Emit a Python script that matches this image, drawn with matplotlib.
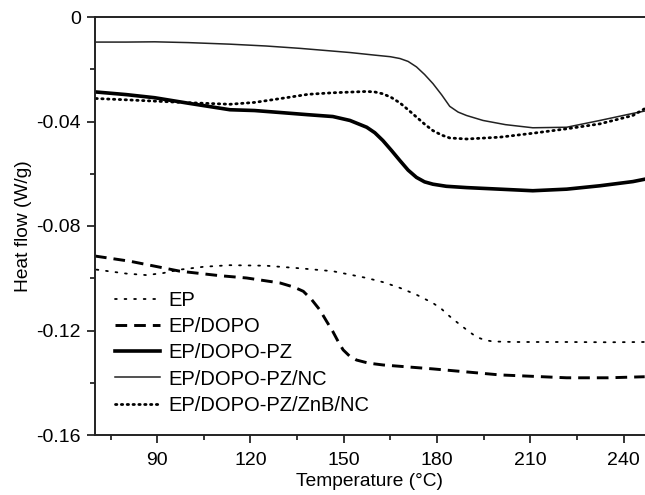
import matplotlib
matplotlib.use("Agg")
import matplotlib.pyplot as plt
from matplotlib.ticker import FixedLocator

# DSC curves (temperature in C, heat flow in W/g)
ep_t = [70.5, 80, 86.6, 92, 97.3, 105, 113.4, 125, 136, 146.5, 157.4, 163, 168.1, 173.4,
        178.7, 181.5, 184.1, 186.8, 189.5, 192.7, 195.5, 198, 205, 221.7, 235, 246.8]
ep_hf = [-0.0967, -0.0982, -0.0988, -0.0980, -0.0967, -0.0956, -0.0950, -0.0952, -0.0962,
         -0.0973, -0.0999, -0.1016, -0.1037, -0.1063, -0.1095, -0.1118, -0.1146, -0.1172,
         -0.1197, -0.1225, -0.1237, -0.1242, -0.1244, -0.1244, -0.1245, -0.1244]

dopo_t = [70, 81.3, 97.3, 110, 118.8, 129.5, 134, 137, 139.7, 142.3, 144.4, 146.5, 148.2,
          149.8, 151.8, 154.1, 158, 162.7, 178.7, 200.2, 221.7, 235, 246.8]
dopo_hf = [-0.0915, -0.0935, -0.0973, -0.0990, -0.0999, -0.1018, -0.1034, -0.1050, -0.1082,
           -0.1121, -0.1163, -0.1204, -0.1242, -0.1274, -0.1297, -0.1313, -0.1325, -0.1332,
           -0.1347, -0.1370, -0.1381, -0.1381, -0.1377]

pz_t = [70.3, 80, 89.2, 100, 113.4, 121.3, 130, 138.5, 146.5, 152, 157.4, 160, 162.6,
        165.3, 168.1, 170.7, 173.4, 176, 178.7, 183, 189.5, 200.2, 210.8, 221.7, 232.4,
        243, 246.8]
pz_hf = [-0.0287, -0.0297, -0.0309, -0.0330, -0.0355, -0.0358, -0.0366, -0.0374, -0.0381,
         -0.0396, -0.0422, -0.0443, -0.0473, -0.0510, -0.0550, -0.0586, -0.0614, -0.0631,
         -0.0640, -0.0648, -0.0653, -0.0659, -0.0665, -0.0659, -0.0646, -0.0630, -0.0621]

nc_t = [70.3, 80, 89.2, 100, 113.4, 125, 135.9, 145, 152, 160, 165, 168.1, 170.7, 173.4,
        176, 178.7, 181.5, 184.1, 186.8, 189.5, 194.8, 202, 210.8, 221.7, 232.4, 243, 246.8]
nc_hf = [-0.0096, -0.0096, -0.0095, -0.0098, -0.0104, -0.0111, -0.0120, -0.0129, -0.0136,
         -0.0146, -0.0152, -0.0159, -0.0170, -0.0191, -0.0220, -0.0255, -0.0298, -0.0342,
         -0.0364, -0.0377, -0.0396, -0.0412, -0.0424, -0.0422, -0.0396, -0.0369, -0.0360]

znb_t = [70.3, 80, 89.2, 100, 113.4, 121.3, 132, 138.5, 146.5, 157.4, 160, 162.6, 165.3,
         168.1, 170.7, 173.4, 176, 178.7, 181.5, 184.1, 189.5, 200.2, 210.8, 221.7, 232.4,
         243, 246.8]
znb_hf = [-0.0312, -0.0317, -0.0322, -0.0328, -0.0334, -0.0327, -0.0308, -0.0296, -0.0290,
          -0.0285, -0.0287, -0.0294, -0.0308, -0.0329, -0.0355, -0.0383, -0.0410, -0.0435,
          -0.0452, -0.0463, -0.0467, -0.0460, -0.0445, -0.0428, -0.0409, -0.0377, -0.0351]

x_ticks = [90, 120, 150, 180, 210, 240]
x_minor = [75, 105, 135, 165, 195, 225]
y_ticks = [0, -0.04, -0.08, -0.12, -0.16]
y_tick_labels = ["0", "-0.04", "-0.08", "-0.12", "-0.16"]
y_minor = [-0.02, -0.06, -0.10, -0.14]


def plotHeatFlow():
    """
    DSC heat flow curves for the five EP formulations
    """
    plt.rcParams["font.family"] = ["Liberation Sans", "DejaVu Sans"]
    plt.rcParams["axes.unicode_minus"] = False

    fig = plt.figure(figsize=(6.45, 4.95), dpi=100)
    ax = fig.add_axes([95 / 645, 60 / 495, 550 / 645, 418 / 495])

    ax.plot(ep_t, ep_hf, color="black", lw=1.3, linestyle=(0, (1, 4.3)),
            dash_capstyle="round", label="EP")
    ax.plot(dopo_t, dopo_hf, color="black", lw=2.1, linestyle=(0, (4, 2.4)),
            label="EP/DOPO")
    ax.plot(pz_t, pz_hf, color="black", lw=2.6, label="EP/DOPO-PZ")
    ax.plot(nc_t, nc_hf, color="#222222", lw=1.1, label="EP/DOPO-PZ/NC")
    ax.plot(znb_t, znb_hf, color="black", lw=2.0, linestyle=(0, (0.5, 1.6)),
            dash_capstyle="round", label="EP/DOPO-PZ/ZnB/NC")

    ax.set_xlim(70, 246.9)
    ax.set_ylim(-0.16, 0)
    ax.set_xticks(x_ticks)
    ax.set_xticklabels([str(t) for t in x_ticks])
    ax.xaxis.set_minor_locator(FixedLocator(x_minor))
    ax.set_yticks(y_ticks)
    ax.set_yticklabels(y_tick_labels)
    ax.yaxis.set_minor_locator(FixedLocator(y_minor))

    ax.spines["right"].set_visible(False)
    for s in ["left", "bottom", "top"]:
        ax.spines[s].set_linewidth(1.4)
        ax.spines[s].set_color("#222222")
    ax.tick_params(which="major", direction="out", length=6, width=1.1,
                   labelsize=14, pad=4, top=False, right=False)
    ax.tick_params(which="minor", direction="out", length=3.5, width=1.1,
                   top=False, right=False)
    ax.tick_params(axis="x", which="major", pad=6)

    ax.set_xlabel("Temperature (°C)", fontsize=13.8, labelpad=3)
    ax.set_ylabel("Heat flow (W/g)", fontsize=13.8, labelpad=3)

    ax.legend(loc="upper left", bbox_to_anchor=(0.036, 0.345), frameon=False,
              fontsize=14.5, handlelength=2.25, handletextpad=0.4,
              labelspacing=0.36, borderpad=0, borderaxespad=0)

    fig.savefig("out.png", dpi=100)


if __name__ == "__main__":
    plotHeatFlow()
